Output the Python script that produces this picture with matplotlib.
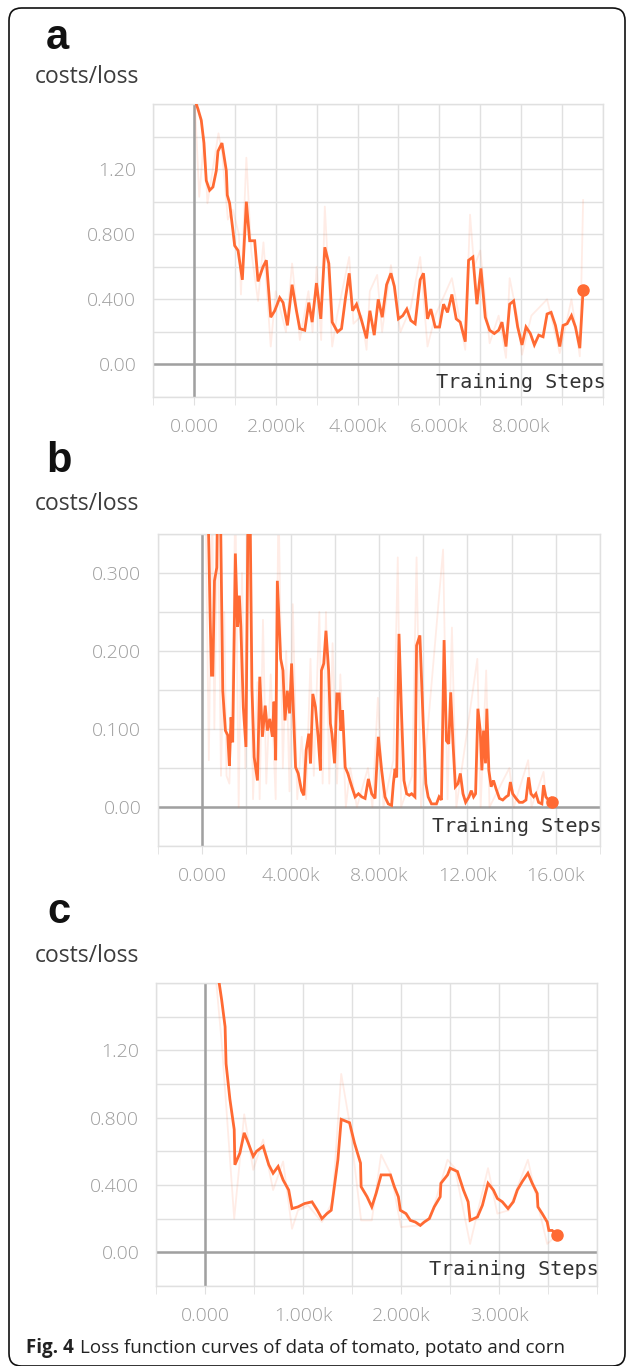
import matplotlib

matplotlib.use("Agg")
import matplotlib.pyplot as plt
from matplotlib.patches import FancyBboxPatch
from matplotlib.ticker import FixedLocator, FixedFormatter

# ---- data (step, loss) ----
A_SMOOTH = [
    (57, 1.60), (98, 1.57), (180, 1.50), (245, 1.36), (302, 1.13), (384, 1.07), (465, 1.09),
    (547, 1.19), (588, 1.31), (686, 1.36), (792, 1.19), (816, 1.04), (873, 0.99), (955, 0.82),
    (996, 0.73), (1078, 0.70), (1184, 0.52), (1282, 1.00), (1363, 0.76), (1486, 0.76),
    (1567, 0.51), (1690, 0.60), (1771, 0.64), (1878, 0.29), (1976, 0.33), (2098, 0.41),
    (2180, 0.38), (2286, 0.24), (2400, 0.49), (2506, 0.33), (2588, 0.22), (2710, 0.21),
    (2808, 0.38), (2890, 0.26), (2996, 0.50), (3102, 0.28), (3200, 0.72), (3298, 0.62),
    (3380, 0.26), (3510, 0.20), (3608, 0.22), (3706, 0.41), (3796, 0.56), (3878, 0.33),
    (3976, 0.37), (4098, 0.27), (4220, 0.16), (4302, 0.33), (4408, 0.18), (4506, 0.40),
    (4604, 0.29), (4710, 0.49), (4816, 0.56), (4900, 0.48), (5000, 0.28), (5106, 0.30),
    (5204, 0.34), (5302, 0.27), (5408, 0.25), (5531, 0.52), (5612, 0.56), (5710, 0.28),
    (5792, 0.34), (5898, 0.23), (6004, 0.23), (6102, 0.37), (6200, 0.32), (6306, 0.43),
    (6412, 0.28), (6510, 0.26), (6633, 0.14), (6714, 0.64), (6820, 0.66), (6918, 0.37),
    (7016, 0.59), (7122, 0.29), (7229, 0.21), (7343, 0.19), (7449, 0.21), (7531, 0.26),
    (7629, 0.11), (7718, 0.37), (7816, 0.39), (7914, 0.23), (8020, 0.12), (8118, 0.23),
    (8224, 0.19), (8322, 0.12), (8429, 0.18), (8535, 0.17), (8633, 0.31), (8731, 0.32),
    (8837, 0.24), (8943, 0.11), (9024, 0.24), (9122, 0.25), (9229, 0.30), (9327, 0.23),
    (9433, 0.10), (9514, 0.46),
]
A_RAW = [
    (0, 1.75), (130, 1.03), (250, 1.40), (330, 0.99), (600, 1.42), (690, 1.30), (830, 0.89),
    (950, 0.95), (1100, 0.80), (1150, 0.43), (1282, 1.27), (1400, 0.70), (1567, 0.39),
    (1700, 0.75), (1878, 0.11), (2000, 0.45), (2250, 0.20), (2400, 0.62), (2590, 0.15),
    (2800, 0.45), (2900, 0.20), (3000, 0.60), (3110, 0.15), (3200, 0.97), (3380, 0.11),
    (3500, 0.30), (3796, 0.66), (3900, 0.25), (4098, 0.30), (4220, 0.09), (4300, 0.45),
    (4480, 0.55), (4600, 0.20), (4816, 0.61), (4950, 0.35), (5050, 0.20), (5300, 0.35),
    (5531, 0.66), (5710, 0.11), (5900, 0.30), (6306, 0.53), (6633, 0.09), (6750, 0.92),
    (6850, 0.60), (7000, 0.70), (7229, 0.13), (7449, 0.30), (7629, 0.04), (7718, 0.53),
    (7900, 0.30), (8020, 0.06), (8250, 0.30), (8633, 0.40), (8943, 0.07), (9229, 0.40),
    (9433, 0.05), (9514, 1.01),
]

B_SMOOTH = [
    (200, 0.45), (255, 0.40), (360, 0.243), (420, 0.169), (480, 0.169), (555, 0.290),
    (660, 0.307), (705, 0.42), (810, 0.42), (930, 0.149), (1050, 0.098), (1155, 0.092),
    (1230, 0.053), (1305, 0.115), (1380, 0.083), (1500, 0.325), (1600, 0.231), (1680, 0.271),
    (1750, 0.231), (1860, 0.128), (1980, 0.077), (2080, 0.40), (2160, 0.40), (2250, 0.154),
    (2350, 0.064), (2500, 0.034), (2605, 0.167), (2725, 0.090), (2850, 0.130), (2950, 0.098),
    (3055, 0.113), (3175, 0.090), (3250, 0.135), (3325, 0.060), (3400, 0.290), (3550, 0.190),
    (3655, 0.175), (3745, 0.111), (3850, 0.149), (3955, 0.120), (4045, 0.184), (4150, 0.107),
    (4225, 0.051), (4345, 0.043), (4495, 0.021), (4600, 0.015), (4705, 0.073), (4825, 0.094),
    (4900, 0.056), (5005, 0.145), (5125, 0.128), (5245, 0.090), (5350, 0.047), (5395, 0.175),
    (5500, 0.184), (5600, 0.226), (5720, 0.175), (5800, 0.107), (5870, 0.094), (5990, 0.056),
    (6095, 0.145), (6200, 0.145), (6275, 0.098), (6350, 0.124), (6470, 0.051), (6590, 0.043),
    (6770, 0.026), (6920, 0.013), (7070, 0.017), (7220, 0.013), (7370, 0.011), (7520, 0.036),
    (7670, 0.017), (7820, 0.011), (7970, 0.090), (8120, 0.047), (8270, 0.013), (8420, 0.004),
    (8570, 0.002), (8650, 0.030), (8725, 0.049), (8800, 0.038), (8905, 0.222), (9025, 0.115),
    (9130, 0.034), (9250, 0.017), (9370, 0.015), (9475, 0.017), (9625, 0.013), (9700, 0.207),
    (9850, 0.220), (10000, 0.107), (10120, 0.030), (10225, 0.013), (10375, 0.004),
    (10600, 0.004), (10720, 0.013), (10825, 0.009), (10945, 0.214), (11050, 0.085),
    (11155, 0.081), (11245, 0.147), (11350, 0.081), (11455, 0.026), (11575, 0.030),
    (11680, 0.043), (11800, 0.017), (11920, 0.006), (12070, 0.013), (12175, 0.021),
    (12280, 0.013), (12370, 0.017), (12475, 0.126), (12580, 0.098), (12655, 0.047),
    (12730, 0.098), (12820, 0.056), (12880, 0.126), (12970, 0.047), (13075, 0.026),
    (13180, 0.034), (13300, 0.023), (13450, 0.011), (13600, 0.009), (13750, 0.013),
    (13855, 0.015), (13945, 0.032), (14050, 0.017), (14200, 0.011), (14350, 0.006),
    (14500, 0.006), (14650, 0.009), (14770, 0.038), (14875, 0.017), (14995, 0.013),
    (15100, 0.017), (15220, 0.006), (15370, 0.004), (15445, 0.028), (15550, 0.013),
    (15670, 0.009), (15775, 0.011), (15850, 0.006),
]
B_RAW = [
    (150, 0.40), (300, 0.06), (450, 0.40), (550, 0.10), (700, 0.40), (850, 0.04), (1000, 0.25),
    (1100, 0.04), (1230, 0.03), (1400, 0.20), (1500, 0.40), (1650, 0.00), (1800, 0.30),
    (1950, 0.05), (2100, 0.40), (2300, 0.01), (2500, 0.16), (2600, 0.01), (2750, 0.24),
    (2900, 0.03), (3100, 0.17), (3325, 0.01), (3450, 0.40), (3650, 0.05), (3800, 0.20),
    (3950, 0.02), (4100, 0.26), (4300, 0.01), (4500, 0.09), (4700, 0.01), (4900, 0.19),
    (5050, 0.04), (5300, 0.25), (5450, 0.03), (5600, 0.25), (5750, 0.03), (5900, 0.21),
    (6100, 0.03), (6250, 0.17), (6500, 0.00), (6700, 0.05), (7000, 0.00), (7500, 0.05),
    (7700, 0.00), (7950, 0.14), (8200, 0.00), (8650, 0.06), (8850, 0.32), (9000, 0.00),
    (9500, 0.04), (9700, 0.32), (9900, 0.00), (10900, 0.33), (11100, 0.01), (11300, 0.23),
    (11500, 0.00), (12450, 0.19), (12600, 0.00), (12850, 0.175), (13000, 0.00),
    (13900, 0.05), (14100, 0.00), (14750, 0.06), (14900, 0.00), (15445, 0.045),
    (15600, 0.00), (15850, 0.01),
]

C_SMOOTH = [
    (142, 1.61), (170, 1.50), (205, 1.34), (215, 1.12), (254, 0.91), (298, 0.73), (305, 0.52),
    (356, 0.59), (400, 0.71), (441, 0.65), (492, 0.57), (525, 0.60), (593, 0.63), (651, 0.52),
    (695, 0.47), (746, 0.51), (797, 0.43), (854, 0.37), (888, 0.26), (949, 0.27), (1017, 0.29),
    (1092, 0.30), (1146, 0.25), (1193, 0.20), (1244, 0.23), (1288, 0.25), (1356, 0.55),
    (1390, 0.79), (1475, 0.77), (1525, 0.65), (1587, 0.53), (1593, 0.39), (1654, 0.33),
    (1702, 0.27), (1746, 0.35), (1797, 0.46), (1892, 0.46), (1932, 0.39), (1973, 0.33),
    (1993, 0.25), (2051, 0.23), (2095, 0.19), (2146, 0.18), (2197, 0.16), (2237, 0.18),
    (2288, 0.20), (2339, 0.27), (2400, 0.33), (2407, 0.41), (2475, 0.46), (2502, 0.50),
    (2576, 0.48), (2637, 0.37), (2685, 0.30), (2705, 0.19), (2780, 0.21), (2831, 0.28),
    (2888, 0.41), (2943, 0.37), (2983, 0.32), (3034, 0.30), (3092, 0.26), (3146, 0.30),
    (3187, 0.37), (3237, 0.42), (3295, 0.47), (3339, 0.41), (3390, 0.35), (3397, 0.27),
    (3441, 0.23), (3492, 0.18), (3509, 0.13), (3543, 0.13), (3587, 0.105),
]
C_RAW = [
    (100, 1.70), (170, 1.25), (298, 0.20), (356, 0.55), (400, 0.82), (492, 0.49), (593, 0.67),
    (695, 0.37), (797, 0.54), (888, 0.14), (949, 0.25), (1050, 0.28), (1193, 0.18),
    (1300, 0.30), (1390, 1.06), (1475, 0.77), (1593, 0.19), (1702, 0.19), (1797, 0.58),
    (1900, 0.46), (2000, 0.15), (2197, 0.16), (2300, 0.20), (2475, 0.55), (2550, 0.50),
    (2705, 0.05), (2888, 0.50), (2983, 0.23), (3100, 0.25), (3295, 0.55), (3390, 0.30),
    (3492, 0.05), (3587, 0.10),
]

# ticks / labels
A_XTICKS = [0, 2000, 4000, 6000, 8000]
A_XLABELS = ["0.000", "2.000k", "4.000k", "6.000k", "8.000k"]
A_YTICKS = [0.0, 0.4, 0.8, 1.2]
A_YLABELS = ["0.00", "0.400", "0.800", "1.20"]
B_XTICKS = [0, 4000, 8000, 12000, 16000]
B_XLABELS = ["0.000", "4.000k", "8.000k", "12.00k", "16.00k"]
B_YTICKS = [0.0, 0.1, 0.2, 0.3]
B_YLABELS = ["0.00", "0.100", "0.200", "0.300"]
C_XTICKS = [0, 1000, 2000, 3000]
C_XLABELS = ["0.000", "1.000k", "2.000k", "3.000k"]

W, H = 627, 1366
LINE = "#ff6a33"
GRID = "#e0e0e0"
AXIS = "#a0a0a0"
TICKC = "#9c9c9c"


def fx(px):
    return px / W


def fy(py):
    return 1 - py / H


def panel(fig, box, xlim, xstep, ylim, ystep, xt, xl, yt, yl, smooth, raw, steps_y):
    left, top, right, bottom = box
    ax = fig.add_axes([fx(left), fy(bottom), (right - left) / W, (bottom - top) / H])
    ax.set_xlim(*xlim)
    ax.set_ylim(*ylim)
    n_x = int(round((xlim[1] - xlim[0]) / xstep))
    n_y = int(round((ylim[1] - ylim[0]) / ystep))
    ax.xaxis.set_minor_locator(FixedLocator([xlim[0] + i * xstep for i in range(n_x + 1)]))
    ax.yaxis.set_minor_locator(FixedLocator([ylim[0] + i * ystep for i in range(n_y + 1)]))
    ax.xaxis.set_major_locator(FixedLocator(xt))
    ax.xaxis.set_major_formatter(FixedFormatter(xl))
    ax.yaxis.set_major_locator(FixedLocator(yt))
    ax.yaxis.set_major_formatter(FixedFormatter(yl))
    ax.grid(True, which="both", color=GRID, lw=1.0)
    ax.set_axisbelow(True)
    for s in ax.spines.values():
        s.set_color(GRID)
        s.set_linewidth(1.0)
    ax.tick_params(axis="x", which="both", length=6, color=GRID, pad=9,
                   labelsize=14, labelcolor=TICKC)
    ax.tick_params(axis="y", which="both", length=0, pad=12,
                   labelsize=14, labelcolor=TICKC)
    for lab in ax.get_xticklabels() + ax.get_yticklabels():
        lab.set_family("Open Sans")
        lab.set_fontweight("light")
    ax.axhline(0, color=AXIS, lw=1.8, zorder=1.5)
    ax.axvline(0, color=AXIS, lw=1.8, zorder=1.5)

    rx, ry = zip(*raw)
    ax.plot(rx, ry, color=LINE, alpha=0.12, lw=1.3, zorder=2)
    sx, sy = zip(*smooth)
    ax.plot(sx, sy, color=LINE, lw=2.0, zorder=3, solid_joinstyle="miter")
    ax.plot([sx[-1]], [sy[-1]], "o", color=LINE, ms=8, zorder=4, clip_on=False)
    ax.text(1.005, steps_y, "Training Steps", transform=ax.transAxes, ha="right", va="center",
            family="DejaVu Sans Mono", fontsize=14.5, color="#333333")
    return ax


fig = plt.figure(figsize=(W / 100, H / 100), dpi=100)

panel(fig, (153, 104, 603, 397), (-1000, 10000), 1000, (-0.2, 1.6), 0.2,
      A_XTICKS, A_XLABELS, A_YTICKS, A_YLABELS, A_SMOOTH, A_RAW, 0.048)
panel(fig, (158, 534, 600, 846), (-2000, 18000), 2000, (-0.05, 0.35), 0.05,
      B_XTICKS, B_XLABELS, B_YTICKS, B_YLABELS, B_SMOOTH, B_RAW, 0.062)
panel(fig, (156, 983, 597, 1286), (-500, 4000), 500, (-0.2, 1.6), 0.2,
      C_XTICKS, C_XLABELS, A_YTICKS, A_YLABELS, C_SMOOTH, C_RAW, 0.053)

for letter, x, base in [("a", 46, 49), ("b", 46, 472), ("c", 47, 923)]:
    fig.text(fx(x), fy(base), letter, fontsize=30, fontweight="bold",
             family="Liberation Sans", va="baseline", color="#111111")
for base in (83, 510, 962):
    fig.text(fx(35), fy(base), "costs/loss", fontsize=16.5, family="Open Sans",
             va="baseline", color="#3c3c3c")

fig.text(fx(26), fy(1353), "Fig. 4", fontsize=13.5, fontweight="bold",
         family="Open Sans", va="baseline", color="#222222")
fig.text(fx(80), fy(1353), "Loss function curves of data of tomato, potato and corn",
         fontsize=13.5, family="Open Sans", va="baseline", color="#222222")

border = FancyBboxPatch((fx(9), fy(1366)), fx(625) - fx(9), fy(8) - fy(1366),
                        boxstyle="round,pad=0,rounding_size=0.02",
                        transform=fig.transFigure, fill=False, ec="#111111", lw=1.2,
                        mutation_aspect=W / H)
fig.patches.append(border)

fig.savefig("out.png", dpi=100)
